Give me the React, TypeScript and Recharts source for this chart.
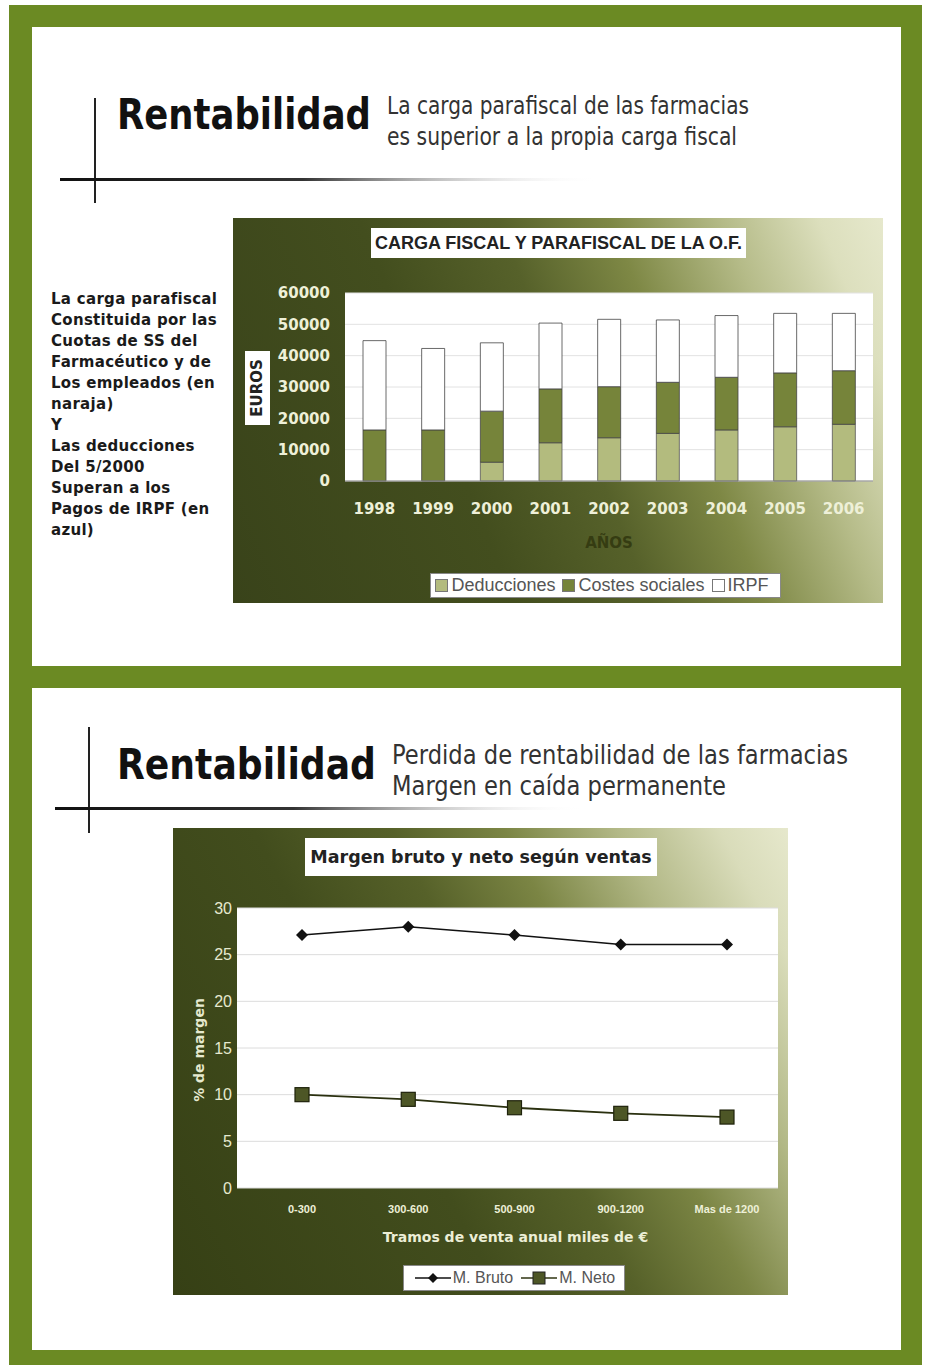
import React from "react";
import {
  BarChart,
  Bar,
  LineChart,
  Line,
  XAxis,
  YAxis,
  CartesianGrid,
  Legend,
} from "recharts";

// ---- data: carga fiscal y parafiscal ----
const years = ["1998", "1999", "2000", "2001", "2002", "2003", "2004", "2005", "2006"];
const deducciones = [0, 0, 6000, 12200, 13800, 15200, 16300, 17300, 18100];
const costesSociales = [16300, 16300, 16300, 17200, 16300, 16300, 16800, 17200, 17100];
const irpf = [28500, 26000, 21800, 21000, 21500, 19900, 19700, 19000, 18300];
const euroTicks = [0, 10000, 20000, 30000, 40000, 50000, 60000];

// ---- data: margen bruto y neto ----
const tramos = ["0-300", "300-600", "500-900", "900-1200", "Mas de 1200"];
const margenBruto = [27.1, 28.0, 27.1, 26.1, 26.1];
const margenNeto = [10.0, 9.5, 8.6, 8.0, 7.6];
const margenTicks = [0, 5, 10, 15, 20, 25, 30];

const fiscalData = years.map((year, i) => ({
  year,
  ded: deducciones[i],
  costes: costesSociales[i],
  irpf: irpf[i],
}));

const margenData = tramos.map((tramo, i) => ({
  tramo,
  bruto: margenBruto[i],
  neto: margenNeto[i],
}));

const GREEN = "#6b8a23";
const DED = "#b3bb7e";
const COSTES = "#76843a";
const PALE = "#eef0d8";

const bg1 =
  "linear-gradient(68deg, #39431a 0%, #434e1e 35%, #56612a 52%, #7e8845 66%, #b5bb88 80%, #dcdfbd 92%, #e6e8cc 100%)";
const bg2 =
  "linear-gradient(62deg, #364015 0%, #424d1d 38%, #566129 54%, #7b8544 67%, #b2b886 80%, #d9dcba 92%, #e6e8cc 100%)";

const FiscalLegend = () => {
  const items = [
    { label: "Deducciones", fill: DED },
    { label: "Costes sociales", fill: COSTES },
    { label: "IRPF", fill: "#fff" },
  ];
  return (
    <div
      style={{
        background: "#fff",
        border: "1px solid #888",
        height: 23,
        display: "flex",
        alignItems: "center",
        justifyContent: "center",
        fontFamily: "Liberation Sans, Arial, sans-serif",
        fontSize: 18,
        color: "#555",
      }}
    >
      {items.map((it) => (
        <span key={it.label} style={{ display: "flex", alignItems: "center", marginRight: 7 }}>
          <span
            style={{
              width: 11,
              height: 11,
              background: it.fill,
              border: "1px solid #777",
              marginRight: 3,
              display: "inline-block",
            }}
          />
          {it.label}
        </span>
      ))}
    </div>
  );
};

const MargenLegend = () => (
  <div
    style={{
      background: "#fff",
      border: "1px solid #888",
      height: 24,
      display: "flex",
      alignItems: "center",
      justifyContent: "center",
      fontFamily: "Liberation Sans, Arial, sans-serif",
      fontSize: 16,
      color: "#555",
    }}
  >
    <svg width={40} height={14}>
      <line x1={2} y1={7} x2={38} y2={7} stroke="#111" strokeWidth={1.5} />
      <polygon points="20,2 25,7 20,12 15,7" fill="#111" />
    </svg>
    <span style={{ marginRight: 6 }}>M. Bruto</span>
    <svg width={40} height={14}>
      <line x1={2} y1={7} x2={38} y2={7} stroke="#2f3512" strokeWidth={1.5} />
      <rect x={14} y={1} width={12} height={12} fill="#4d5626" stroke="#222" />
    </svg>
    <span>M. Neto</span>
  </div>
);

const Diamond = (props: any) => {
  const { cx, cy } = props;
  return <polygon points={`${cx},${cy - 6} ${cx + 6},${cy} ${cx},${cy + 6} ${cx - 6},${cy}`} fill="#111" />;
};

const Square = (props: any) => {
  const { cx, cy } = props;
  return <rect x={cx - 7} y={cy - 7} width={14} height={14} fill="#4d5626" stroke="#1e220b" strokeWidth={1.2} />;
};

const Header = () => (
  <svg
    width={926}
    height={1365}
    style={{ position: "absolute", left: 0, top: 0 }}
  >
    <defs>
      <linearGradient id="rule" x1="0" x2="1" y1="0" y2="0">
        <stop offset="0%" stopColor="#111" />
        <stop offset="45%" stopColor="#333" />
        <stop offset="100%" stopColor="#fff" stopOpacity={0} />
      </linearGradient>
    </defs>
    {/* panel 1 */}
    <line x1={95} y1={98} x2={95} y2={203} stroke="#222" strokeWidth={2} />
    <rect x={60} y={178} width={540} height={3} fill="url(#rule)" />
    <text
      x={117}
      y={129}
      textLength={254}
      lengthAdjust="spacingAndGlyphs"
      fontFamily="DejaVu Sans"
      fontWeight="bold"
      fontSize={42}
      fill="#111"
    >
      Rentabilidad
    </text>
    <text x={387} y={114} textLength={362} lengthAdjust="spacingAndGlyphs" fontFamily="DejaVu Sans" fontSize={24} fill="#333">
      La carga parafiscal de las farmacias
    </text>
    <text x={387} y={145} textLength={350} lengthAdjust="spacingAndGlyphs" fontFamily="DejaVu Sans" fontSize={24} fill="#333">
      es superior a la propia carga fiscal
    </text>
    {/* panel 2 */}
    <line x1={89} y1={727} x2={89} y2={833} stroke="#222" strokeWidth={2} />
    <rect x={55} y={807} width={530} height={3} fill="url(#rule)" />
    <text
      x={117}
      y={779}
      textLength={259}
      lengthAdjust="spacingAndGlyphs"
      fontFamily="DejaVu Sans"
      fontWeight="bold"
      fontSize={42}
      fill="#111"
    >
      Rentabilidad
    </text>
    <text x={392} y={764} textLength={456} lengthAdjust="spacingAndGlyphs" fontFamily="DejaVu Sans" fontSize={26} fill="#333">
      Perdida de rentabilidad de las farmacias
    </text>
    <text x={392} y={795} textLength={334} lengthAdjust="spacingAndGlyphs" fontFamily="DejaVu Sans" fontSize={26} fill="#333">
      Margen en caída permanente
    </text>
  </svg>
);

const noteLines = [
  "La carga parafiscal",
  "Constituida por las",
  "Cuotas de SS del",
  "Farmacéutico y de",
  "Los empleados (en",
  "naraja)",
  "Y",
  "Las deducciones",
  "Del 5/2000",
  "Superan a los",
  "Pagos de IRPF (en",
  "azul)",
];

export default function App() {
  return (
    <div
      style={{
        position: "absolute",
        left: 0,
        top: 0,
        width: 926,
        height: 1365,
        background: "#fff",
        overflow: "hidden",
      }}
    >
      <div style={{ position: "absolute", left: 9, top: 5, width: 913, height: 1360, background: GREEN }} />
      <div style={{ position: "absolute", left: 32, top: 27, width: 869, height: 639, background: "#fff" }} />
      <div style={{ position: "absolute", left: 32, top: 688, width: 869, height: 662, background: "#fff" }} />
      <Header />

      <div
        style={{
          position: "absolute",
          left: 51,
          top: 289,
          fontFamily: "DejaVu Sans",
          fontWeight: "bold",
          fontSize: 15,
          lineHeight: "21px",
          color: "#1a1a1a",
          letterSpacing: 0.3,
        }}
      >
        {noteLines.map((l, i) => (
          <div key={i}>{l}</div>
        ))}
      </div>

      {/* chart 1 */}
      <div style={{ position: "absolute", left: 233, top: 218, width: 650, height: 385, background: bg1 }}>
        <BarChart
          width={650}
          height={385}
          data={fiscalData}
          margin={{ top: 75, right: 10, bottom: 0, left: 0 }}
          barSize={23}
        >
          <CartesianGrid vertical={false} fill="#fff" stroke="#e2e2e2" />
          <XAxis
            dataKey="year"
            height={122}
            tickLine={false}
            tickSize={6}
            tickMargin={16}
            axisLine={{ stroke: "#8a8a8a" }}
            tick={{ fill: PALE, fontSize: 15, fontWeight: "bold", fontFamily: "DejaVu Sans" }}
            label={(p: any) => {
              const vb = p.viewBox;
              return (
                <text
                  x={vb.x + vb.width / 2}
                  y={vb.y + 67}
                  textAnchor="middle"
                  fontFamily="DejaVu Sans"
                  fontWeight="bold"
                  fontSize={15}
                  fill="#353c12"
                >
                  AÑOS
                </text>
              );
            }}
          />
          <YAxis
            width={112}
            domain={[0, 60000]}
            ticks={euroTicks}
            interval={0}
            tickLine={false}
            axisLine={false}
            tickSize={6}
            tickMargin={9}
            tick={{ fill: PALE, fontSize: 15, fontWeight: "bold", fontFamily: "DejaVu Sans" }}
            label={(p: any) => {
              const vb = p.viewBox;
              const cx = vb.x + 24;
              const cy = vb.y + vb.height / 2 + 1;
              return (
                <g>
                  <rect x={cx - 12} y={cy - 37} width={25} height={74} fill="#fff" />
                  <text
                    x={cx}
                    y={cy}
                    transform={`rotate(-90 ${cx} ${cy})`}
                    textAnchor="middle"
                    dominantBaseline="central"
                    fontFamily="DejaVu Sans"
                    fontWeight="bold"
                    fontSize={15}
                    fill="#222"
                  >
                    EUROS
                  </text>
                </g>
              );
            }}
          />
          <Bar dataKey="ded" stackId="a" fill={DED} stroke="#555" strokeWidth={0.8} isAnimationActive={false} />
          <Bar dataKey="costes" stackId="a" fill={COSTES} stroke="#444" strokeWidth={0.8} isAnimationActive={false} />
          <Bar dataKey="irpf" stackId="a" fill="#fff" stroke="#444" strokeWidth={0.8} isAnimationActive={false} />
          <Legend
            layout="horizontal"
            verticalAlign="middle"
            align="center"
            content={() => <FiscalLegend />}
            wrapperStyle={{ left: 197, top: 355, width: 351 }}
          />
        </BarChart>
        <div
          style={{
            position: "absolute",
            left: 138,
            top: 10,
            width: 375,
            height: 30,
            background: "#fff",
            display: "flex",
            alignItems: "center",
            justifyContent: "center",
            fontFamily: "Liberation Sans, Arial, sans-serif",
            fontWeight: "bold",
            fontSize: 18,
            color: "#222",
          }}
        >
          CARGA FISCAL Y PARAFISCAL DE LA O.F.
        </div>
      </div>

      {/* chart 2 */}
      <div style={{ position: "absolute", left: 173, top: 828, width: 615, height: 467, background: bg2 }}>
        <LineChart
          width={615}
          height={467}
          data={margenData}
          margin={{ top: 80, right: 10, bottom: 0, left: 0 }}
        >
          <CartesianGrid vertical={false} fill="#fff" stroke="#dcdcdc" />
          <XAxis
            dataKey="tramo"
            scale="point"
            padding={{ left: 65, right: 51 }}
            height={107}
            tickLine={false}
            axisLine={false}
            tickSize={6}
            tickMargin={11}
            tick={{ fill: PALE, fontSize: 11, fontWeight: "bold", fontFamily: "Liberation Sans, Arial" }}
            label={(p: any) => {
              const vb = p.viewBox;
              return (
                <text
                  x={vb.x + vb.width / 2 + 8}
                  y={vb.y + 54}
                  textAnchor="middle"
                  fontFamily="DejaVu Sans"
                  fontWeight="bold"
                  fontSize={14}
                  fill="#eceed6"
                >
                  Tramos de venta anual miles de €
                </text>
              );
            }}
          />
          <YAxis
            width={64}
            domain={[0, 30]}
            ticks={margenTicks}
            interval={0}
            tickLine={false}
            axisLine={false}
            tickSize={0}
            tickMargin={5}
            tick={{ fill: "#e6e9cf", fontSize: 16, fontFamily: "Liberation Sans, Arial" }}
            label={(p: any) => {
              const vb = p.viewBox;
              const cx = vb.x + 26;
              const cy = vb.y + vb.height / 2 + 2;
              return (
                <text
                  x={cx}
                  y={cy}
                  transform={`rotate(-90 ${cx} ${cy})`}
                  textAnchor="middle"
                  dominantBaseline="central"
                  fontFamily="DejaVu Sans"
                  fontWeight="bold"
                  fontSize={14}
                  fill="#e6e9cf"
                >
                  % de margen
                </text>
              );
            }}
          />
          <Line
            dataKey="bruto"
            stroke="#111"
            strokeWidth={1.5}
            dot={<Diamond />}
            isAnimationActive={false}
          />
          <Line
            dataKey="neto"
            stroke="#2a300f"
            strokeWidth={1.8}
            dot={<Square />}
            isAnimationActive={false}
          />
          <Legend
            layout="horizontal"
            verticalAlign="middle"
            align="center"
            content={() => <MargenLegend />}
            wrapperStyle={{ left: 230, top: 437, width: 222 }}
          />
        </LineChart>
        <div
          style={{
            position: "absolute",
            left: 132,
            top: 10,
            width: 352,
            height: 38,
            background: "#fff",
            display: "flex",
            alignItems: "center",
            justifyContent: "center",
            fontFamily: "DejaVu Sans",
            fontWeight: "bold",
            fontSize: 17.5,
            color: "#222",
          }}
        >
          Margen bruto y neto según ventas
        </div>
      </div>
    </div>
  );
}
